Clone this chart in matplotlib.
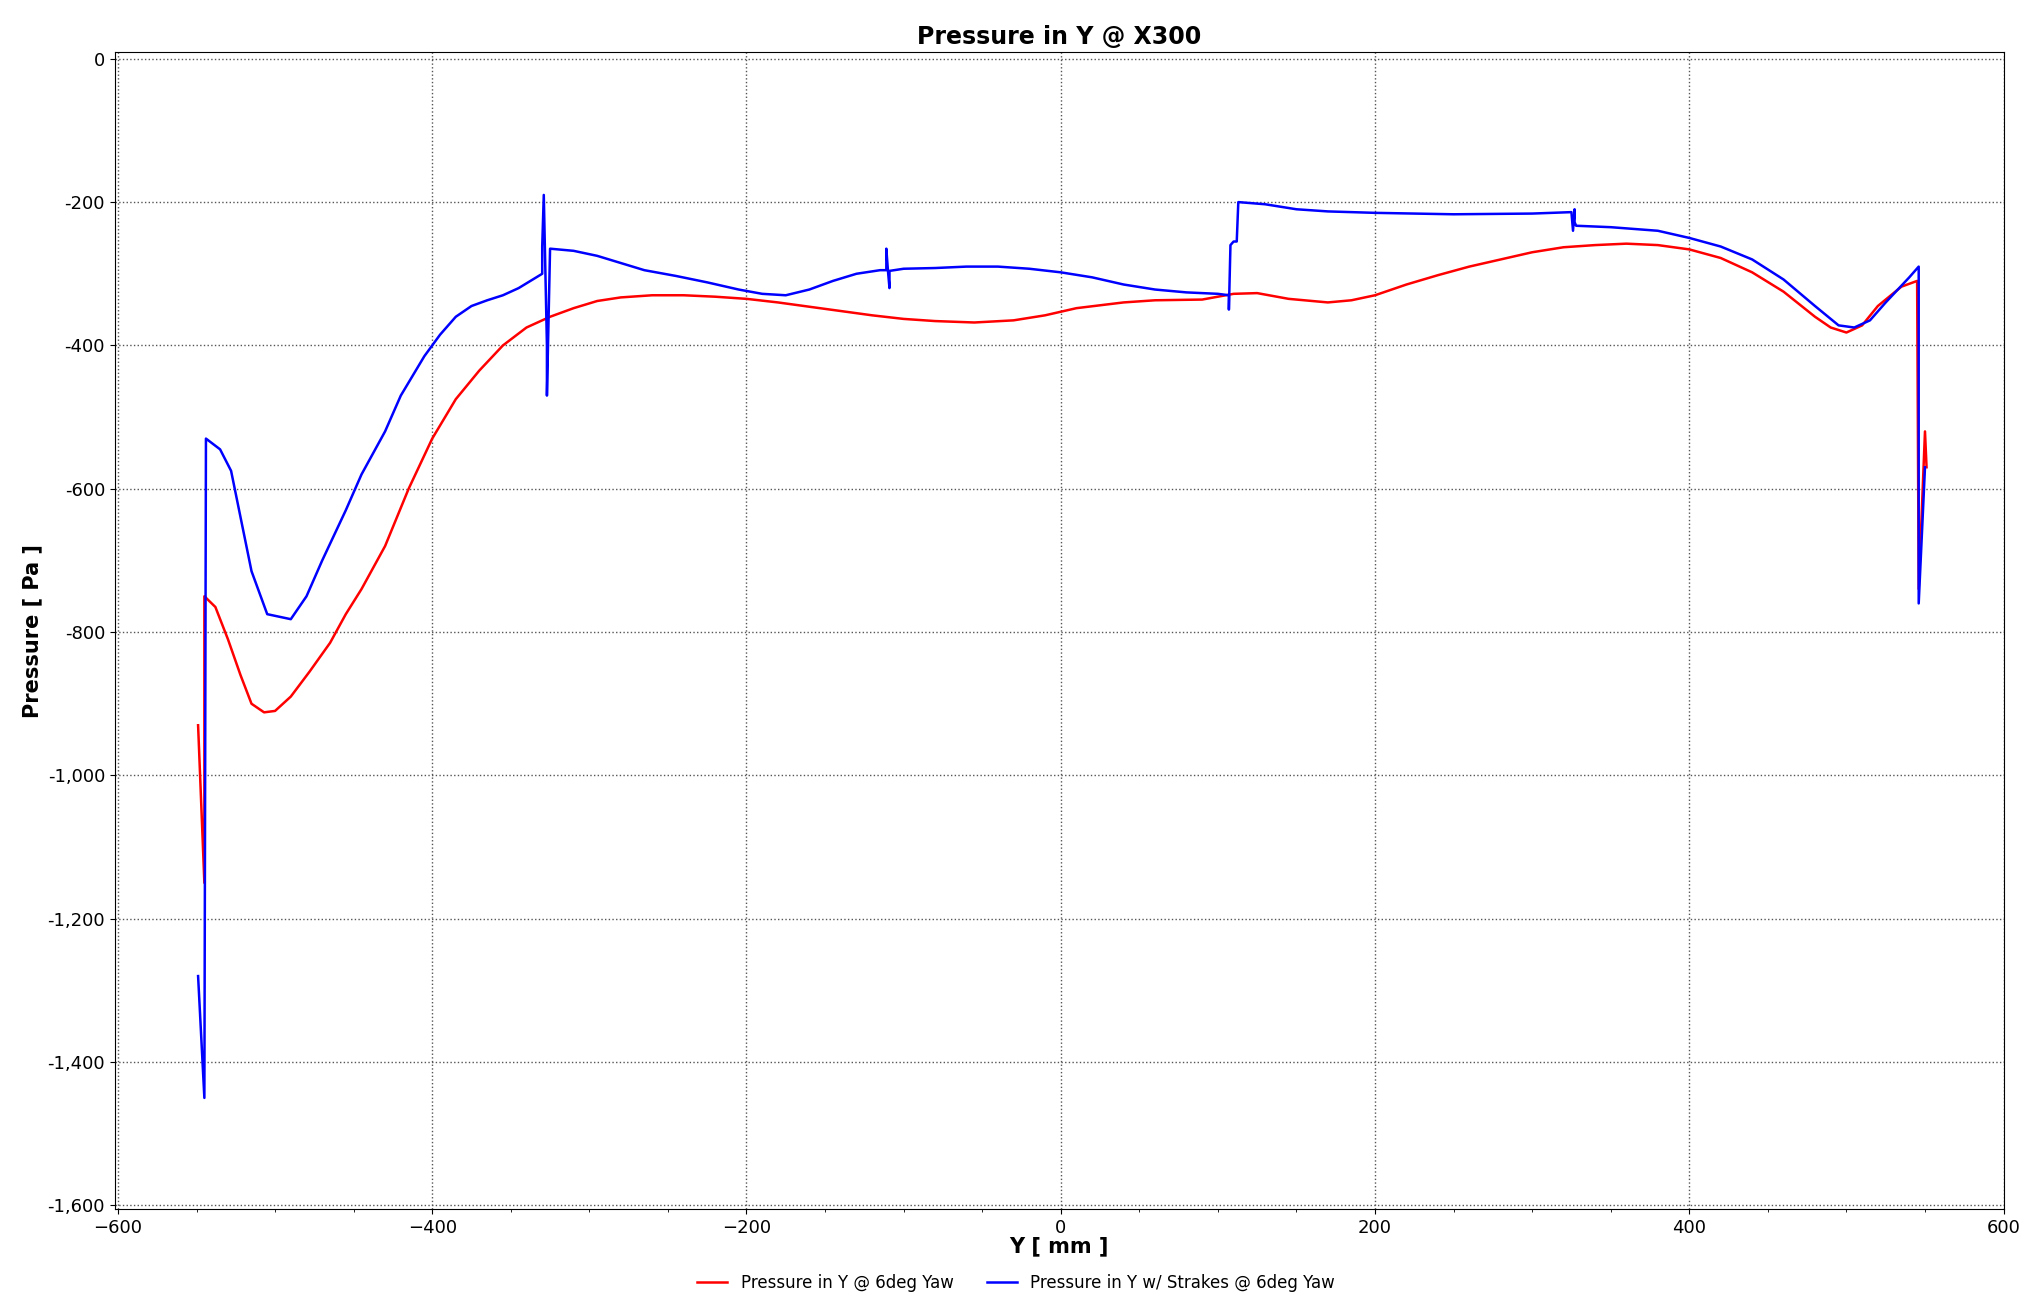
import matplotlib
matplotlib.use("Agg")
import matplotlib.pyplot as plt
from matplotlib.ticker import FuncFormatter, MultipleLocator

red_x = [-549,-545,-545,-538,-530,-522,-515,-507,-500,-490,-478,-465,-455,-445,-430,-415,-400,-385,-370,-355,-340,-325,-310,-295,-280,-260,-240,-220,-200,-180,-160,-140,-120,-100,-80,-55,-30,-10,10,40,60,90,110,125,145,170,185,200,220,240,260,280,300,320,340,360,380,400,420,440,460,480,490,500,510,520,535,545,546,550,551]
red_y = [-930,-1150,-750,-765,-810,-860,-900,-912,-910,-890,-855,-815,-775,-740,-680,-600,-530,-475,-435,-400,-375,-360,-348,-338,-333,-330,-330,-332,-335,-340,-346,-352,-358,-363,-366,-368,-365,-358,-348,-340,-337,-336,-328,-327,-335,-340,-337,-330,-315,-302,-290,-280,-270,-263,-260,-258,-260,-266,-278,-298,-325,-360,-375,-382,-372,-345,-318,-310,-740,-520,-570]

blue_x = [-549,-545,-544,-535,-528,-515,-505,-490,-480,-470,-455,-445,-430,-420,-405,-395,-385,-375,-365,-355,-345,-330,-330,-329,-327,-327,-325,-310,-295,-280,-265,-245,-225,-205,-190,-175,-160,-145,-130,-115,-111,-111,-110,-109,-109,-100,-80,-60,-40,-20,0,20,40,60,80,100,107,107,108,110,112,113,130,150,170,200,250,300,325,326,327,327,328,350,380,400,420,440,460,480,495,505,515,525,540,546,546,550]
blue_y = [-1280,-1450,-530,-545,-575,-715,-775,-782,-750,-700,-630,-580,-520,-470,-415,-385,-360,-345,-337,-330,-320,-300,-262,-190,-400,-470,-265,-268,-275,-285,-295,-303,-312,-322,-328,-330,-322,-310,-300,-295,-295,-265,-295,-320,-296,-293,-292,-290,-290,-293,-298,-305,-315,-322,-326,-328,-330,-350,-260,-255,-255,-200,-203,-210,-213,-215,-217,-216,-214,-240,-210,-228,-233,-235,-240,-250,-262,-280,-308,-345,-372,-375,-365,-340,-305,-290,-760,-570]

fig = plt.figure(figsize=(20.32, 13.08), dpi=100)
ax = fig.add_axes([0.0565, 0.0757, 0.9295, 0.8843])
ax.plot(red_x, red_y, color="#ff0000", lw=1.8, label="Pressure in Y @ 6deg Yaw")
ax.plot(blue_x, blue_y, color="#0000ff", lw=1.8, label="Pressure in Y w/ Strakes @ 6deg Yaw")
ax.set_xlim(-602, 600)
ax.set_ylim(-1605, 9)
ax.xaxis.set_major_locator(MultipleLocator(200))
ax.xaxis.set_minor_locator(MultipleLocator(50))
ax.yaxis.set_major_locator(MultipleLocator(200))
ax.yaxis.set_major_formatter(FuncFormatter(lambda v, p: f"{int(v):,}"))
ax.grid(True, which="major", color="#555555", ls=":", lw=1)
ax.tick_params(labelsize=13)
ax.set_title("Pressure in Y @ X300", fontsize=17, fontweight="bold", pad=6)
ax.set_xlabel("Y [ mm ]", fontsize=15, fontweight="bold", labelpad=0)
ax.set_ylabel("Pressure [ Pa ]", fontsize=15, fontweight="bold")
fig.legend(loc="center", bbox_to_anchor=(0.5, 0.019), ncol=2, frameon=False, fontsize=12, handlelength=1.8)
fig.savefig("out.png", dpi=100)
